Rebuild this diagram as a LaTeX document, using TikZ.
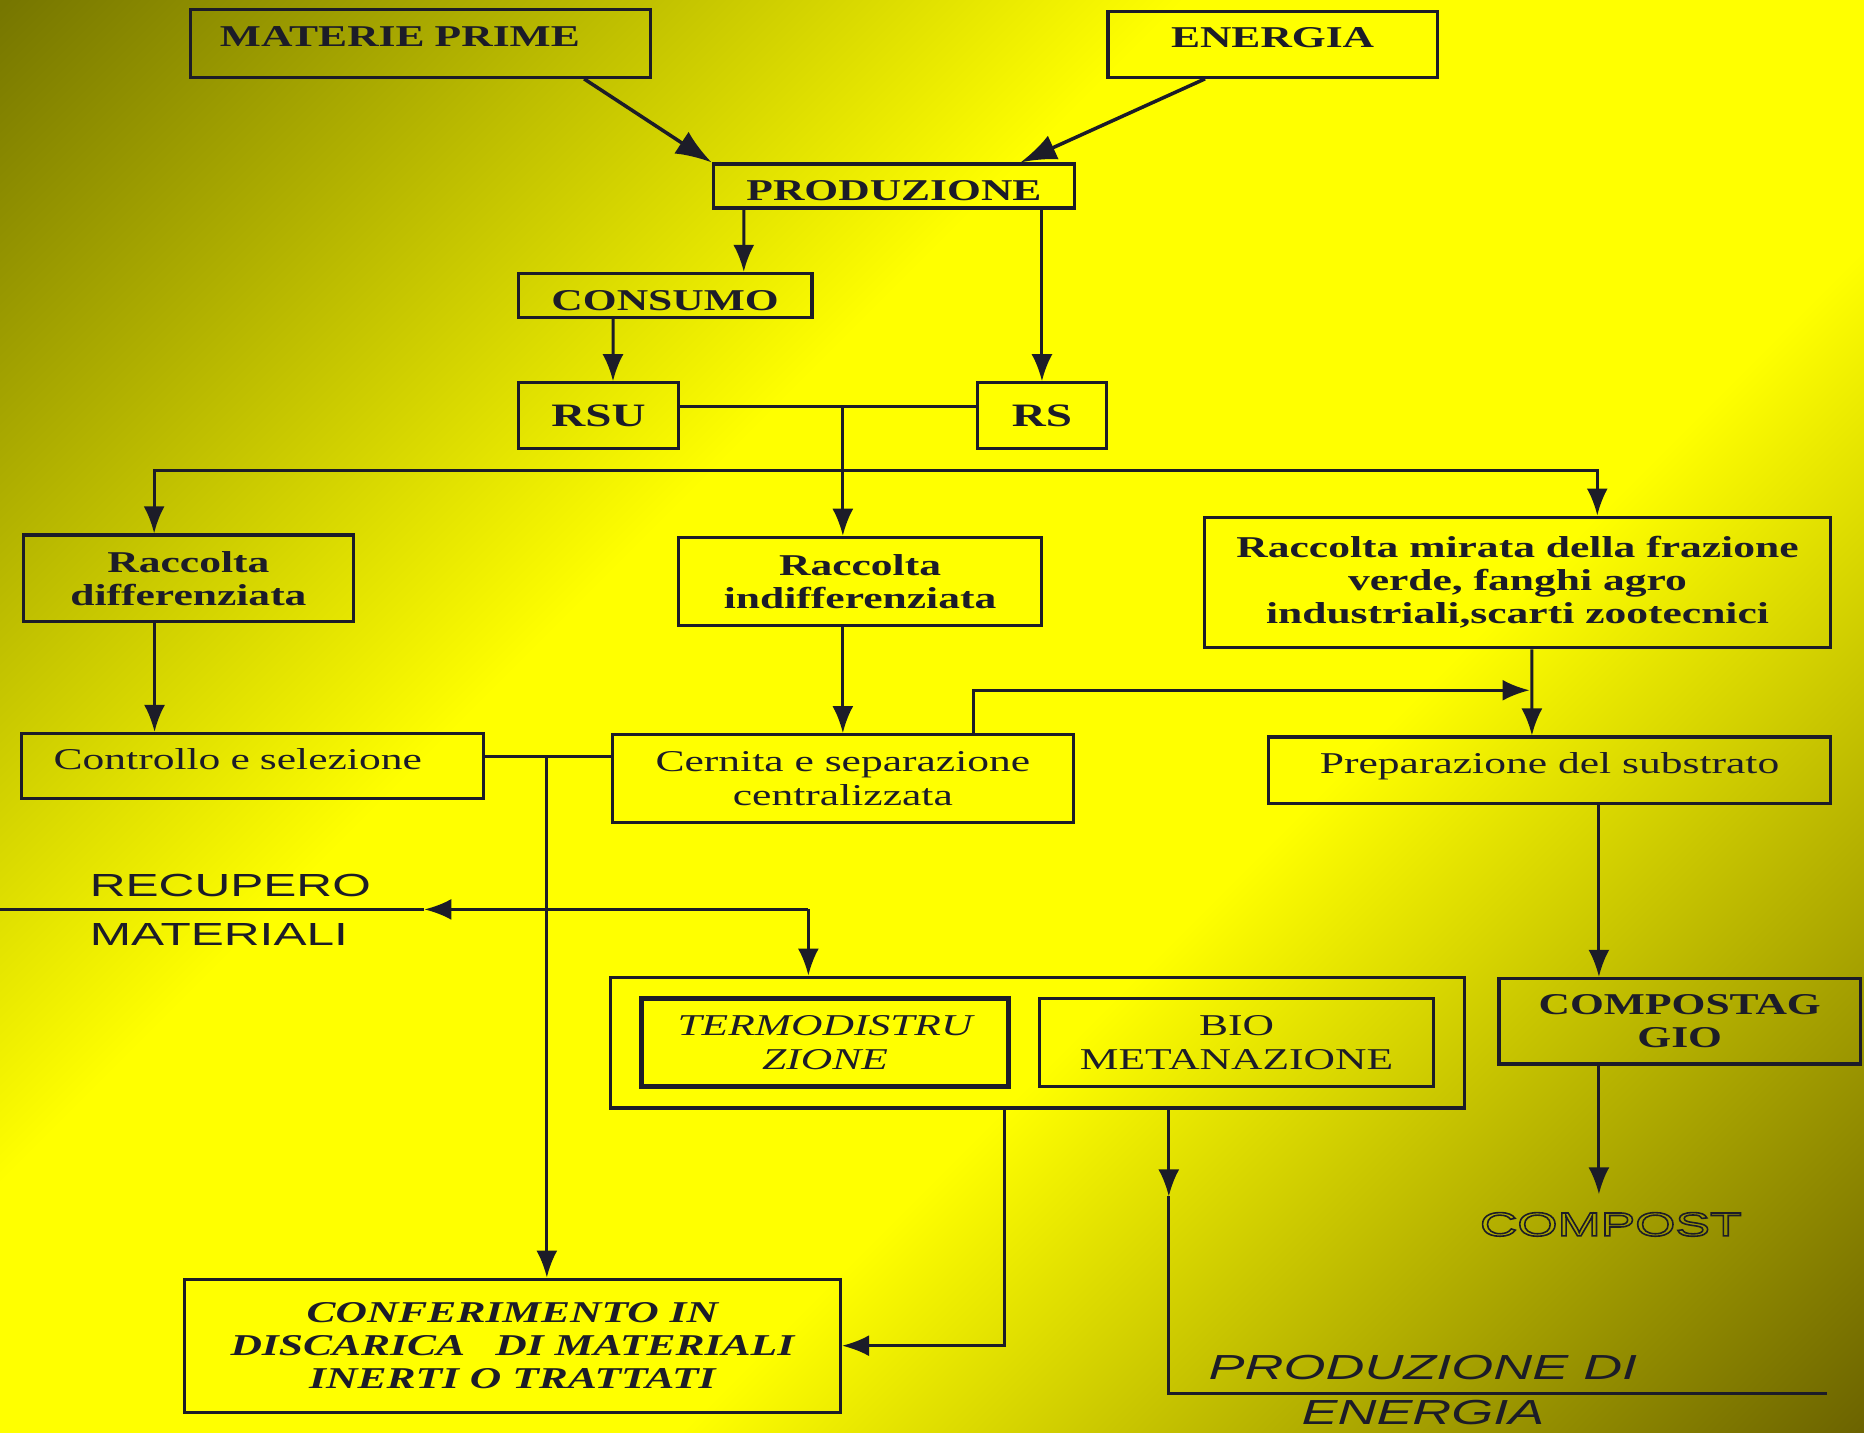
\documentclass[tikz,border=0pt]{standalone}
\usepackage{fontspec}
\setmainfont{Liberation Serif}[FakeStretch=1.44]
\newfontfamily\handfont{Liberation Sans}[FakeStretch=1.55]
\usepackage{tikz}
\usetikzlibrary{positioning, arrows.meta, fit, calc}
\definecolor{ink}{RGB}{28,28,40}
\definecolor{olA}{RGB}{118,118,0}
\definecolor{olB}{RGB}{108,100,0}
\definecolor{brightyellow}{RGB}{255,255,0}
\pgfdeclarehorizontalshading{bgfade}{100bp}{color(0bp)=(olA); color(14.6bp)=(olA); color(40bp)=(brightyellow); color(60bp)=(brightyellow); color(85.4bp)=(olB); color(100bp)=(olB)}
\newcommand{\blkfont}{\fontsize{8.6}{9.44}\selectfont}
\newcommand{\handsize}{\handfont\fontsize{9.3}{13}\selectfont}
\tikzstyle{blk}=[%
      rectangle, draw=ink, line width=0.9pt, text=ink, inner sep=0pt,
      align=center, font=\blkfont
]
\tikzstyle{blkb}=[blk, font=\blkfont\bfseries]
\tikzstyle{wire}=[draw=ink, line width=0.85pt]
\tikzstyle{arr}=[wire, -{Latex[length=2.7mm,width=2.1mm]}]
\tikzstyle{bigarr}=[wire, line width=1pt, -{Latex[length=3.6mm,width=2.6mm]}]
\tikzstyle{hand}=[text=ink, inner sep=0pt, font=\handsize]

\begin{document}
\begin{tikzpicture}[x=0.011888cm, y=-0.011888cm]
    \shade[shading=bgfade, shading angle=-45] (0,0) rectangle (1568,1205);
    \useasboundingbox (0,0) rectangle (1568,1205);

    % production chain
    \node[blkb, text width=4.006cm, align=left, inner xsep=0.297cm, text height=0.369cm, text depth=0.309cm] (matprime) at (353.5,36.5) {MATERIE PRIME};
    \node[blkb, minimum width=3.293cm, text height=0.357cm, text depth=0.297cm] (energia) at (1070.5,37.5) {ENERGIA};
    \node[blkb, minimum width=3.614cm, text height=0.369cm, text depth=0.071cm] (prod) at (752,156.5) {PRODUZIONE};
    \node[blkb, minimum width=2.936cm, text height=0.369cm, text depth=0.071cm] (consumo) at (559.5,248.5) {CONSUMO};
    \node[blkb, font=\fontsize{9.3}{10}\selectfont\bfseries, minimum width=1.605cm, minimum height=0.654cm] (rsu) at (503.5,349.5) {RSU};
    \node[blkb, font=\fontsize{9.3}{10}\selectfont\bfseries, minimum width=1.296cm, minimum height=0.654cm] (rs) at (876.5,349.5) {RS};

    % collection
    \node[blkb, minimum width=3.293cm, minimum height=0.868cm] (racdiff) at (158.5,486.5) {Raccolta\\differenziata};
    \node[blkb, minimum width=3.626cm, minimum height=0.88cm] (racind) at (723.5,489) {Raccolta\\indifferenziata};
    \node[blkb, minimum width=6.265cm, minimum height=1.308cm] (racmir) at (1276.5,490) {Raccolta mirata della frazione\\verde, fanghi agro\\industriali,scarti zootecnici};
    \node[blk, text width=3.98cm, align=left, inner xsep=0.321cm, text height=0.357cm, text depth=0.297cm] (controllo) at (212.5,644.5) {Controllo e selezione};
    \node[blk, minimum width=4.612cm, minimum height=0.88cm] (cernita) at (709,655) {Cernita e separazione\\centralizzata};
    \node[blk, minimum width=5.623cm, text height=0.369cm, text depth=0.297cm] (prep) at (1303.5,648) {Preparazione del substrato};

    % treatment
    \node[blk, line width=1.4pt, minimum width=3.661cm, minimum height=0.88cm, font=\blkfont\itshape] (termo) at (694,877) {TERMODISTRU\\ZIONE};
    \node[blk, minimum width=3.947cm, minimum height=0.88cm, right=0.27cm of termo] (bio) {BIO\\METANAZIONE};
    \node[blk, fit=(termo)(bio), inner xsep=0.29cm, inner ysep=0.19cm] (outer) {};
    \node[blkb, minimum width=3.614cm, minimum height=0.856cm] (compostag) at (1413,859) {COMPOSTAG\\GIO};
    \node[blkb, font=\blkfont\bfseries\itshape, minimum width=6.562cm, minimum height=1.331cm] (confer) at (431,1132) {CONFERIMENTO IN\\DISCARICA\quad DI MATERIALI\\INERTI O TRATTATI};

    % outputs
    \node[hand, font=\handfont\fontsize{9.5}{11}\selectfont, inner ysep=5pt] (compost) at (1355,1030) {\special{pdf:literal direct 1 Tr 0.45 w}COMPOST\special{pdf:literal direct 0 Tr 0.4 w}};
    \node[hand, font=\handfont\itshape\fontsize{9.9}{12.8}\selectfont, align=center] (prodener) at (1197,1169) {PRODUZIONE DI\\ENERGIA};
    \node[hand, font=\handfont\fontsize{9.1}{13.8}\selectfont, align=left, anchor=west] (recup) at (75,765.5) {RECUPERO\\MATERIALI};

    \coordinate (jrs) at (709,342);
    \coordinate (jsplit) at (709,396);
    \coordinate (jsel) at (460,636);
    \coordinate (jdiff) at (130,523);
    \coordinate (jcomp) at (1345,895);
    \coordinate (rmR) at (680,765);
    \coordinate (rmA) at (357,765);
    \coordinate (rmL) at (0,765);
    \coordinate (emid) at ($(outer.south west)+(471,73)$);
    \coordinate (eend) at (1537,1172);

    \draw[bigarr] ($(matprime.south east)+(-57,0)$) -- (prod.north west);
    \draw[bigarr] ($(energia.south west)+(83,0)$) -- ($(prod.north east)+(-47,0)$);
    \draw[arr] ($(prod.south west)+(27,0)$) -- ($(consumo.north west)+(191,0)$);
    \draw[arr] (prod.south -| rs.north) -- (rs.north);
    \draw[arr] ($(consumo.south west)+(81,0)$) -- ($(rsu.north west)+(81,0)$);
    \draw[wire] ($(rsu.east)+(0,-7.5)$) -- ($(rs.west)+(0,-7.5)$);
    \draw[arr] (jrs) -- (jrs |- racind.north);
    \draw[arr] (jsplit) -| ($(racdiff.north west)+(111,0)$);
    \draw[arr] (jsplit) -| ($(racmir.north west)+(332,0)$);

    \draw[arr] (jdiff |- racdiff.south) -- (jdiff |- controllo.north);
    \draw[arr] (racind.south -| cernita.north) -- (cernita.north);
    \draw[arr] ($(cernita.north west)+(305,0)$) |- ($(prep.north west)+(221,-38)$);
    \draw[arr] ($(racmir.south west)+(277,0)$) -- ($(prep.north west)+(223,0)$);
    \draw[wire] ($(controllo.east)+(0,-8.5)$) -- ($(cernita.west)+(0,-19)$);
    \draw[arr] (jsel) -- (jsel |- confer.north);

    \draw[arr] (rmR) -- (rmA);
    \draw[wire] (rmA) -- (rmL);
    \draw[arr] (rmR) -- (rmR |- outer.north);

    \draw[arr] (jcomp |- prep.south) -- (jcomp |- compostag.north);
    \draw[arr] (jcomp |- compostag.south) -- (jcomp |- compost.north);
    \draw[arr] ($(outer.south west)+(333,0)$) |- (confer.east);
    \draw[arr] (emid |- outer.south) -- (emid);
    \draw[wire] (emid) |- (eend);
\end{tikzpicture}
\end{document}
